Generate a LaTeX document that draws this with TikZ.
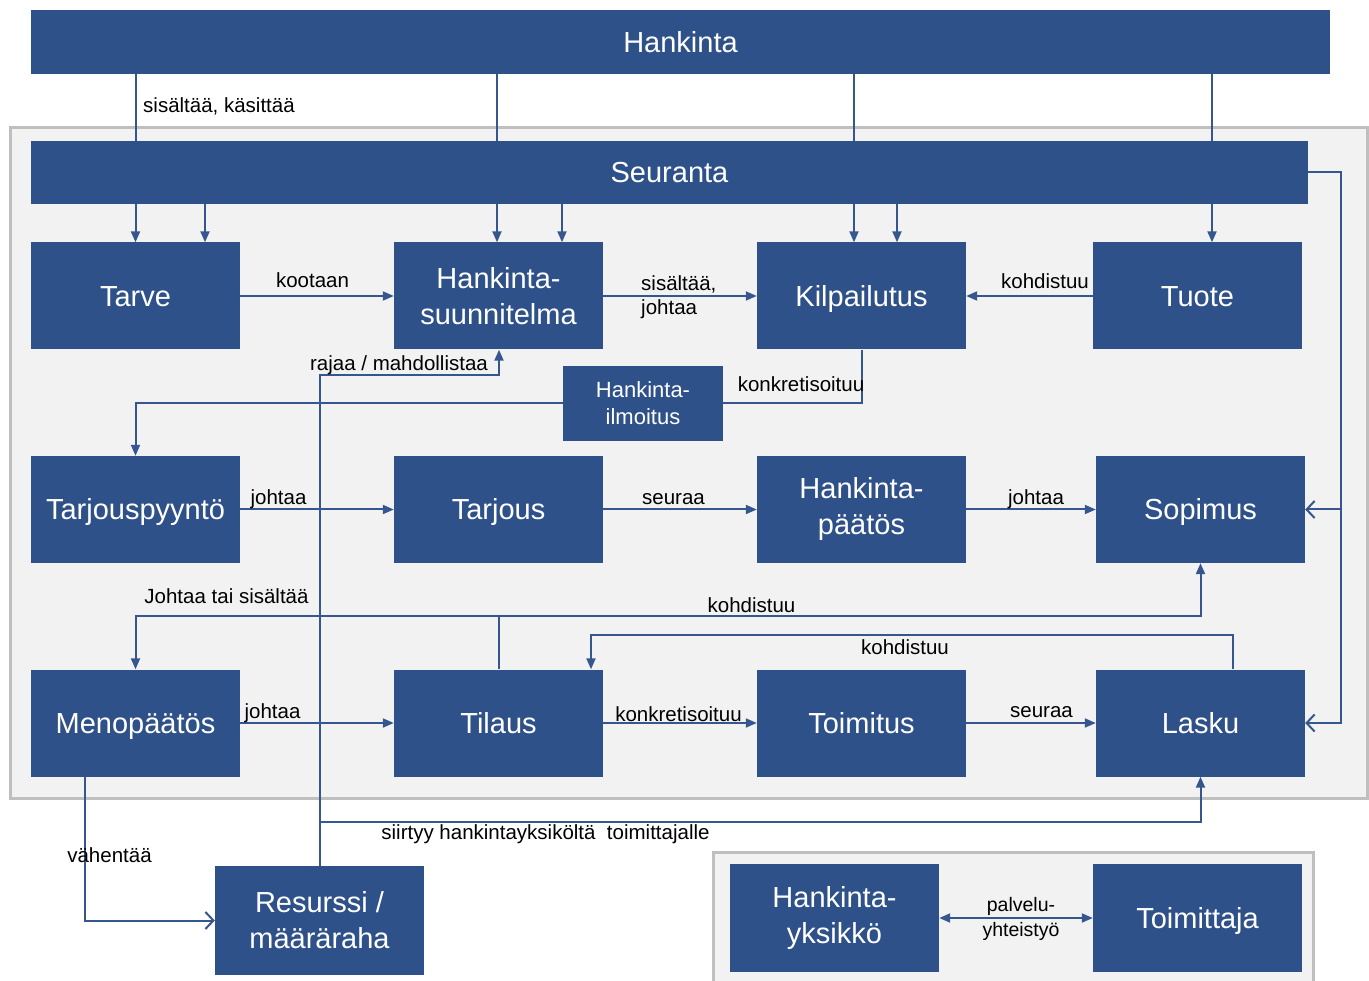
\documentclass[tikz,border=0pt]{standalone}
\usepackage{fontspec}
\setmainfont{Liberation Sans}
\usetikzlibrary{arrows.meta}
\pgfdeclarelayer{frames}
\pgfdeclarelayer{links}
\pgfsetlayers{frames,links,main}
\definecolor{hblue}{HTML}{2F5189}
\definecolor{lblue}{HTML}{35568F}
\definecolor{panel}{HTML}{F2F2F2}
\definecolor{rim}{HTML}{BFBFBF}

\begin{document}
\begin{tikzpicture}[x=1pt,y=-1pt,
  box/.style={fill=hblue,text=white,inner sep=0pt,align=center,
    minimum width=209pt,minimum height=107pt,font=\fontsize{29}{36}\selectfont},
  one/.style={text height=21pt,text depth=0pt},
  bar/.style={box,one,minimum height=64pt},
  smallbox/.style={box,minimum width=160pt,minimum height=75pt,font=\fontsize{22}{27}\selectfont},
  lab/.style={text=black,inner sep=0pt,font=\fontsize{20.5}{24}\selectfont},
  slab/.style={lab,text height=15pt,text depth=0pt},
  link/.style={draw=lblue,line width=2pt},
  arr/.style={link,-{Triangle[length=11pt,width=9pt]}},
  oarr/.style={link,-{Straight Barb[length=8pt,width=17pt]}},
  darr/.style={link,{Triangle[length=11pt,width=9pt]}-{Triangle[length=11pt,width=9pt]}}]
\useasboundingbox (0,0) rectangle (1369,981);

% panels
\begin{pgfonlayer}{frames}
  \filldraw[fill=panel,draw=rim,line width=3pt] (10,128) rectangle (1367,798);
  \filldraw[fill=panel,draw=rim,line width=3pt] (713,852) rectangle (1313,995);
\end{pgfonlayer}

% boxes
\node[bar,minimum width=1299pt] (hankinta) at (680.5,42) {Hankinta};
\node[bar,minimum width=1277pt,minimum height=63pt] (seuranta) at (669.5,172.5) {Seuranta};

\node[box,one] (tarve)   at (135.5,296) {Tarve};
\node[box]     (hsuunn)  at (498.5,296) {Hankinta-\\suunnitelma};
\node[box,one] (kilp)    at (861.5,296) {Kilpailutus};
\node[box,one] (tuote)   at (1197.5,296) {Tuote};

\node[smallbox] (hilm) at (643,403.5) {Hankinta-\\ilmoitus};

\node[box,one] (tarjpyy) at (135.5,509.5) {Tarjouspyyntö};
\node[box,one] (tarjous) at (498.5,509.5) {Tarjous};
\node[box]     (hpaatos) at (861.5,509.5) {Hankinta-\\päätös};
\node[box,one] (sopimus) at (1200.5,509.5) {Sopimus};

\node[box,one] (meno)     at (135.5,723) {Menopäätös};
\node[box,one] (tilaus)   at (498.5,723) {Tilaus};
\node[box,one] (toimitus) at (861.5,723) {Toimitus};
\node[box,one] (lasku)    at (1200.5,723) {Lasku};

\node[box,minimum height=109pt] (resurssi) at (319.5,920.5) {Resurssi /\\määräraha};
\node[box,minimum height=108pt] (hyks)     at (834.5,918) {Hankinta-\\yksikkö};
\node[box,one,minimum height=108pt] (toimittaja) at (1197.5,918) {Toimittaja};

% connectors
\begin{pgfonlayer}{links}
  % from Hankinta and Seuranta down to the first row
  \draw[arr] (hankinta.south -| tarve) -- (tarve.north);
  \draw[arr] (seuranta.south -| 205,0) -- (tarve.north -| 205,0);
  \draw[arr] (hankinta.south -| 497,0) -- (hsuunn.north -| 497,0);
  \draw[arr] (seuranta.south -| 562,0) -- (hsuunn.north -| 562,0);
  \draw[arr] (hankinta.south -| 854,0) -- (kilp.north -| 854,0);
  \draw[arr] (seuranta.south -| 897,0) -- (kilp.north -| 897,0);
  \draw[arr] (hankinta.south -| 1212,0) -- (tuote.north -| 1212,0);

  % Seuranta to Sopimus and Lasku
  \draw[oarr] (seuranta.east) -- (seuranta.east -| 1341,0) |- (lasku.east);
  \draw[oarr] (sopimus.east -| 1341,0) -- (sopimus.east);

  % first row
  \draw[arr] (tarve) -- (hsuunn);
  \draw[arr] (hsuunn) -- (kilp);
  \draw[arr] (tuote) -- (kilp);

  % Kilpailutus through Hankinta-ilmoitus to Tarjouspyyntö
  \draw[link] (kilp.south) |- (hilm.east);
  \draw[arr] (hilm.west) -| (tarjpyy.north);

  % Resurssi upwards and onwards to Lasku
  \draw[arr] (resurssi.north) |- (499,375) -- (hsuunn.south -| 499,0);
  \draw[arr] (resurssi.north |- 0,822) -| (lasku.south);

  % second row
  \draw[arr] (tarjpyy) -- (tarjous);
  \draw[arr] (tarjous) -- (hpaatos);
  \draw[arr] (hpaatos) -- (sopimus);

  % Tilaus to Menopäätös and Sopimus
  \draw[arr] (tilaus.north) -- (tilaus.north |- 0,616) -| (meno.north);
  \draw[arr] (tilaus.north |- 0,616) -| (sopimus.south);

  % Lasku back to Tilaus
  \draw[arr] (lasku.north -| 1233,0) |- (591,635) -- (tilaus.north -| 591,0);

  % third row
  \draw[arr] (meno) -- (tilaus);
  \draw[arr] (tilaus) -- (toimitus);
  \draw[arr] (toimitus) -- (lasku);

  % Menopäätös to Resurssi
  \draw[oarr] (meno.south -| 85,0) |- (resurssi.west);

  % cooperation
  \draw[darr] (hyks) -- (toimittaja);
\end{pgfonlayer}

% connector labels
\node[slab,anchor=west] (l1) at (143,105) {sisältää, käsittää};
\node[slab] (l2) at (312.5,280) {kootaan};
\node[lab,anchor=west,align=left] (l3) at (641,297) {sisältää,\\johtaa};
\node[slab] (l4) at (1045,281) {kohdistuu};
\node[slab] (l5) at (801,384) {konkretisoituu};
\node[slab] (l6) at (399,363) {rajaa / mahdollistaa};
\node[slab] (l7) at (278.5,497) {johtaa};
\node[slab] (l8) at (673.5,497) {seuraa};
\node[slab] (l9) at (1036,497) {johtaa};
\node[slab] (l10) at (226.5,596) {Johtaa tai sisältää};
\node[slab] (l11) at (751.5,605) {kohdistuu};
\node[slab] (l12) at (905,647) {kohdistuu};
\node[slab] (l13) at (272.5,711) {johtaa};
\node[slab] (l14) at (678.5,714) {konkretisoituu};
\node[slab] (l15) at (1041.5,710) {seuraa};
\node[slab] (l16) at (109.5,855) {vähentää};
\node[slab] (l17) at (545.5,832) {siirtyy hankintayksiköltä~ toimittajalle};
\node[lab,align=center,font=\fontsize{19.5}{25}\selectfont] (l18) at (1021,919) {palvelu-\\yhteistyö};
\end{tikzpicture}
\end{document}
